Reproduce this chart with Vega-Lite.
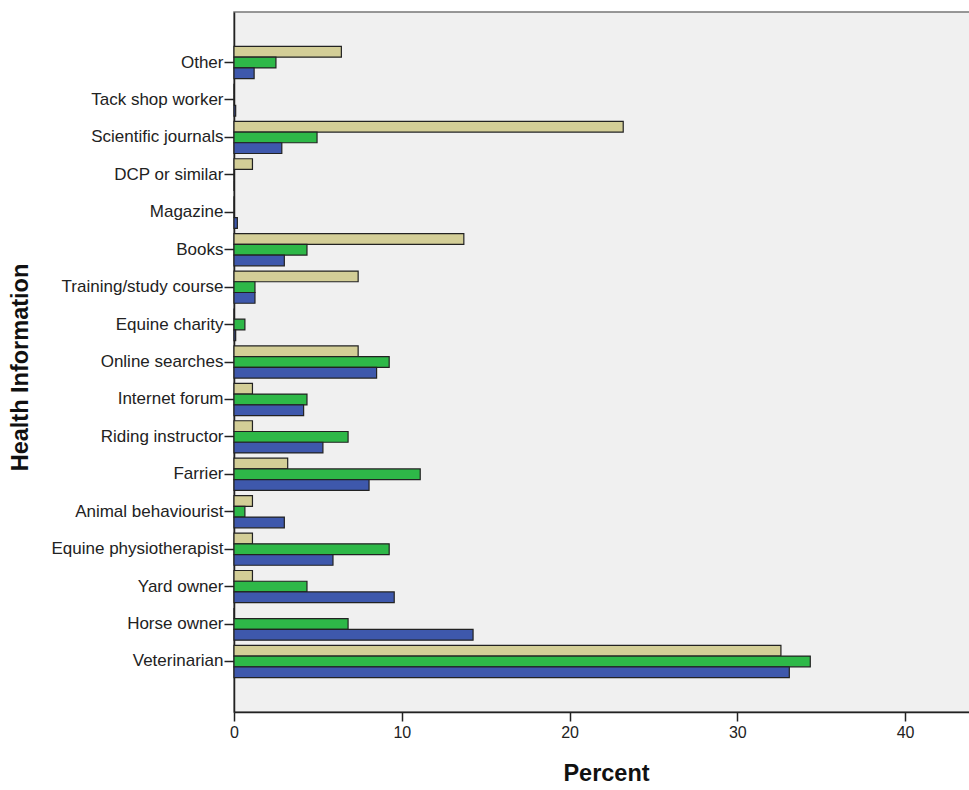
{
  "$schema": "https://vega.github.io/schema/vega-lite/v6.json",
  "width": 737,
  "height": 700,
  "autosize": {"type": "none"},
  "padding": {"left": 234, "top": 12, "right": 0, "bottom": 78},
  "background": "white",
  "config": {
    "view": {"fill": "#f0f0f0", "stroke": "#777", "strokeWidth": 1.5},
    "font": "Liberation Sans"
  },
  "data": {
    "values": [
      {"source": "Other", "series": "S1", "value": 6.4},
      {"source": "Other", "series": "S2", "value": 2.5},
      {"source": "Other", "series": "S3", "value": 1.2},
      {"source": "Tack shop worker", "series": "S1", "value": 0},
      {"source": "Tack shop worker", "series": "S2", "value": 0},
      {"source": "Tack shop worker", "series": "S3", "value": 0.1},
      {"source": "Scientific journals", "series": "S1", "value": 23.2},
      {"source": "Scientific journals", "series": "S2", "value": 4.95},
      {"source": "Scientific journals", "series": "S3", "value": 2.85},
      {"source": "DCP or similar", "series": "S1", "value": 1.1},
      {"source": "DCP or similar", "series": "S2", "value": 0},
      {"source": "DCP or similar", "series": "S3", "value": 0},
      {"source": "Magazine", "series": "S1", "value": 0},
      {"source": "Magazine", "series": "S2", "value": 0},
      {"source": "Magazine", "series": "S3", "value": 0.2},
      {"source": "Books", "series": "S1", "value": 13.7},
      {"source": "Books", "series": "S2", "value": 4.35},
      {"source": "Books", "series": "S3", "value": 3.0},
      {"source": "Training/study course", "series": "S1", "value": 7.4},
      {"source": "Training/study course", "series": "S2", "value": 1.25},
      {"source": "Training/study course", "series": "S3", "value": 1.25},
      {"source": "Equine charity", "series": "S1", "value": 0},
      {"source": "Equine charity", "series": "S2", "value": 0.65},
      {"source": "Equine charity", "series": "S3", "value": 0.1},
      {"source": "Online searches", "series": "S1", "value": 7.4},
      {"source": "Online searches", "series": "S2", "value": 9.25},
      {"source": "Online searches", "series": "S3", "value": 8.5},
      {"source": "Internet forum", "series": "S1", "value": 1.1},
      {"source": "Internet forum", "series": "S2", "value": 4.35},
      {"source": "Internet forum", "series": "S3", "value": 4.15},
      {"source": "Riding instructor", "series": "S1", "value": 1.1},
      {"source": "Riding instructor", "series": "S2", "value": 6.8},
      {"source": "Riding instructor", "series": "S3", "value": 5.3},
      {"source": "Farrier", "series": "S1", "value": 3.2},
      {"source": "Farrier", "series": "S2", "value": 11.1},
      {"source": "Farrier", "series": "S3", "value": 8.05},
      {"source": "Animal behaviourist", "series": "S1", "value": 1.1},
      {"source": "Animal behaviourist", "series": "S2", "value": 0.65},
      {"source": "Animal behaviourist", "series": "S3", "value": 3.0},
      {"source": "Equine physiotherapist", "series": "S1", "value": 1.1},
      {"source": "Equine physiotherapist", "series": "S2", "value": 9.25},
      {"source": "Equine physiotherapist", "series": "S3", "value": 5.9},
      {"source": "Yard owner", "series": "S1", "value": 1.1},
      {"source": "Yard owner", "series": "S2", "value": 4.35},
      {"source": "Yard owner", "series": "S3", "value": 9.55},
      {"source": "Horse owner", "series": "S1", "value": 0},
      {"source": "Horse owner", "series": "S2", "value": 6.8},
      {"source": "Horse owner", "series": "S3", "value": 14.25},
      {"source": "Veterinarian", "series": "S1", "value": 32.6},
      {"source": "Veterinarian", "series": "S2", "value": 34.35},
      {"source": "Veterinarian", "series": "S3", "value": 33.1}
    ]
  },
  "mark": {"type": "bar", "stroke": "#222", "strokeWidth": 1.2, "orient": "horizontal"},
  "encoding": {
    "y": {
      "field": "source",
      "type": "nominal",
      "sort": null,
      "scale": {"paddingInner": 0.14, "paddingOuter": 0.92},
      "axis": {
        "title": "Health Information",
        "titleFont": "Liberation Sans",
        "titleFontSize": 23.5,
        "titleFontWeight": "bold",
        "titleColor": "#111",
        "titleX": -214,
        "titleY": 355,
        "titleAngle": -90,
        "titleAlign": "center",
        "titleBaseline": "middle",
        "labelFontSize": 17,
        "labelColor": "#222",
        "labelPadding": 1,
        "tickSize": 10,
        "tickColor": "#222",
        "tickWidth": 1.5,
        "domainColor": "#222",
        "domainWidth": 1.5,
        "grid": false
      }
    },
    "yOffset": {
      "field": "series",
      "type": "nominal",
      "sort": ["S1", "S2", "S3"],
      "scale": {"paddingInner": 0, "paddingOuter": 0}
    },
    "x": {
      "field": "value",
      "type": "quantitative",
      "scale": {"domain": [0, 43.93], "nice": false, "zero": true},
      "axis": {
        "title": "Percent",
        "titleFont": "Liberation Sans",
        "titleFontSize": 23.5,
        "titleFontWeight": "bold",
        "titleColor": "#111",
        "titleX": 372,
        "titleY": 61,
        "titleAlign": "center",
        "titleBaseline": "middle",
        "values": [0, 10, 20, 30, 40],
        "labelFlush": false,
        "labelFontSize": 16,
        "labelColor": "#222",
        "labelPadding": 3,
        "tickSize": 9,
        "tickColor": "#222",
        "tickWidth": 1.5,
        "domainColor": "#222",
        "domainWidth": 1.5,
        "grid": false
      }
    },
    "color": {
      "field": "series",
      "type": "nominal",
      "scale": {"domain": ["S1", "S2", "S3"], "range": ["#d3ce97", "#2eb848", "#3e58ac"]},
      "legend": null
    }
  }
}
